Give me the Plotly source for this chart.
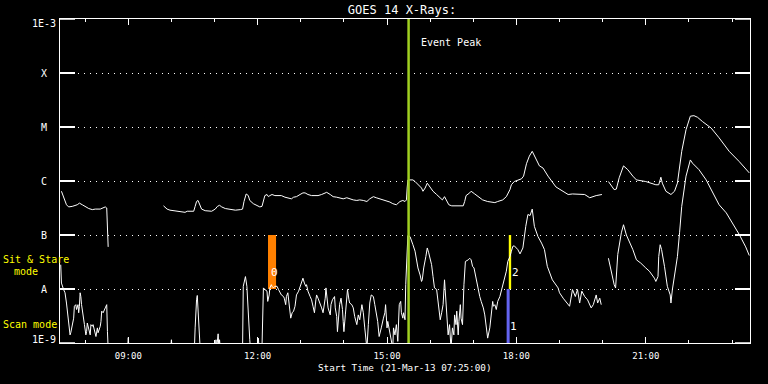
import math
import pandas as pd
import plotly.graph_objects as go

START = pd.Timestamp("2013-03-21 07:25:00")
END = START + pd.Timedelta(minutes=960)

# ---- GOES 14 long channel: minutes after start, log10 flux (W/m^2); None = data gap
long_minutes = (
    [2, 5, 9, 12, 17, 24, 27, 31, 35, 40, 45, 49, 56, 63, 65, 66, 67]
    + [100]
    + [144, 149, 153, 158, 165, 170, 174, 177, 181, 186,
       188, 190, 192, 194, 197, 202, 207, 211, 216, 219,
       222, 225, 230, 237, 244, 251, 254, 256, 259, 262,
       264, 269, 274, 278, 281, 284, 285, 288, 290, 292,
       295, 299, 304, 308, 313, 318, 322, 325, 329, 334,
       338, 341, 345, 350, 355, 359, 364, 369, 371, 376,
       380, 385, 389, 394, 399, 403, 408, 413, 417, 422,
       427, 431, 436, 440, 445, 450, 454, 459, 463, 468,
       473, 477, 480, 482, 483, 484, 487, 491, 494, 498,
       503, 505, 508, 511, 514, 519, 524, 528, 532, 535,
       538, 541, 545, 552, 561, 563, 565, 570, 572, 577,
       582, 588, 595, 605, 609, 616, 621, 626, 628, 632,
       642, 645, 649, 653, 657, 660, 667, 672, 679, 690,
       700, 707, 713, 723, 730, 737, 746, 754]
    + [758]
    + [763, 771, 774, 778, 784, 790, 797, 802, 815, 829, 833, 836, 838, 843,
       850, 855, 859, 865, 871, 877, 882, 887, 894, 906, 917, 931, 945, 959]
)
long_log10 = (
    [-6.19, -6.31, -6.44, -6.48, -6.47, -6.44, -6.41, -6.44, -6.47, -6.51,
     -6.53, -6.52, -6.52, -6.48, -6.50, -6.87, -7.22]
    + [None]
    + [-6.46, -6.52, -6.54, -6.55, -6.56, -6.56, -6.58, -6.56, -6.56, -6.56,
       -6.47, -6.38, -6.36, -6.44, -6.52, -6.55, -6.56, -6.56, -6.52, -6.47,
       -6.45, -6.48, -6.51, -6.53, -6.54, -6.53, -6.52, -6.38, -6.24, -6.27,
       -6.36, -6.42, -6.46, -6.48, -6.47, -6.31, -6.27, -6.25, -6.29, -6.27,
       -6.25, -6.27, -6.27, -6.27, -6.30, -6.31, -6.33, -6.30, -6.29, -6.25,
       -6.22, -6.22, -6.25, -6.27, -6.27, -6.27, -6.25, -6.22, -6.21, -6.25,
       -6.29, -6.30, -6.31, -6.33, -6.31, -6.33, -6.35, -6.36, -6.35, -6.36,
       -6.38, -6.33, -6.29, -6.31, -6.33, -6.35, -6.36, -6.39, -6.42, -6.44,
       -6.38, -6.36, -6.38, -6.35, -6.13, -5.98, -5.98, -5.98, -6.01, -6.07,
       -6.13, -6.19, -6.13, -6.04, -6.10, -6.19, -6.25, -6.31, -6.35, -6.29,
       -6.38, -6.44, -6.46, -6.46, -6.46, -6.38, -6.27, -6.22, -6.19, -6.24,
       -6.29, -6.35, -6.38, -6.40, -6.38, -6.35, -6.29, -6.16, -6.07, -6.01,
       -5.96, -5.91, -5.68, -5.54, -5.45, -5.54, -5.72, -5.76, -5.91, -6.11,
       -6.19, -6.25, -6.24, -6.24, -6.25, -6.31, -6.27, -6.25]
    + [None]
    + [-6.01, -6.16, -6.15, -5.94, -5.72, -5.79, -5.91, -5.98, -6.01, -6.07,
       -6.07, -5.93, -6.04, -6.19, -6.25, -6.19, -6.04, -5.45, -5.05, -4.80,
       -4.79, -4.82, -4.90, -5.02, -5.20, -5.45, -5.64, -5.85]
)

# ---- GOES 14 short channel
short_minutes = (
    [1, 2, 5, 7, 9, 11, 13, 14, 15, 17,
     19, 20, 22, 23, 25, 26, 27, 28, 29, 30,
     31, 33, 34, 36, 37, 38, 40, 42, 43, 45,
     46, 49, 50, 52, 53, 56, 57, 58, 60, 63,
     65, 66, 67, 80, 94, 95, 96, 154, 155, 156,
     187, 188, 189, 190, 191, 192, 193, 195, 216, 217,
     218, 219, 220, 221, 222, 223, 254, 255, 257, 258,
     260, 261, 263, 264, 265, 275, 276, 277, 281]
    + [283, 285, 288, 289, 291, 292, 294, 295, 297, 299,
       302, 304, 306, 308, 311, 312, 314, 315, 317, 319,
       320, 321, 323, 325, 327, 329, 332, 334, 336, 338,
       340, 342, 343, 345, 348, 350, 352, 354, 356, 357,
       359, 362, 364, 366, 369, 370, 371, 373, 376, 377,
       379, 382, 383, 385, 386, 387, 389, 391, 393, 394,
       395, 397, 399, 400, 402, 403, 406, 408, 410, 413,
       415, 417, 420, 422, 424, 427, 429, 431, 433, 436,
       438, 440, 442, 444, 445, 447, 450, 452, 453, 454,
       455, 456, 459, 461, 463, 464, 466, 468, 470, 472,
       474, 475, 477, 478, 480, 481, 483, 484, 487, 489,
       491, 494, 496, 498, 501, 503, 504, 506, 509, 511,
       513, 515, 517, 519, 521, 524, 526, 527, 529, 531,
       533, 535, 537, 538, 540, 542, 544, 546, 548, 549,
       551, 552, 554, 555, 557, 558, 560, 562, 564, 568,
       570, 572, 574, 576, 578, 580, 582, 584, 586, 589,
       591, 592, 594, 595, 598, 600, 602, 603, 605, 607,
       609, 612, 614, 616, 619, 621, 623, 626, 628, 630,
       632, 637, 640, 644, 648, 651, 654, 657, 660, 665,
       670, 674, 678, 685, 693, 695, 700, 704, 709, 713,
       717, 720, 723, 726, 730, 734, 739, 742, 746, 748,
       751, 753]
    + [758]
    + [763, 768, 771, 773, 775, 776, 781, 784, 788, 792,
       797, 802, 808, 815, 820, 827, 829, 832, 833, 835,
       837, 841, 845, 849, 850, 852, 856, 859, 862, 865,
       871, 877, 880, 885, 889, 899, 908, 917, 927, 936,
       945, 954, 959]
)
short_log10 = (
    [-7.55, -7.89, -8.01, -8.07, -8.26, -8.48, -8.66, -8.85, -8.81, -8.66,
     -8.54, -8.32, -8.29, -8.38, -8.29, -8.44, -8.32, -8.07, -8.14, -8.29,
     -8.41, -8.54, -8.66, -8.85, -8.79, -8.63, -8.72, -8.85, -8.66, -8.69,
     -8.66, -8.79, -8.88, -8.72, -8.81, -8.69, -8.60, -8.41, -8.44, -8.35,
     -8.29, -8.79, -9.10, -9.10, -9.10, -8.90, -9.10, -9.10, -8.94, -9.10,
     -9.10, -8.72, -8.32, -8.20, -8.12, -8.35, -8.72, -9.10, -9.10, -8.94,
     -9.10, -8.90, -8.83, -9.10, -8.94, -9.10, -9.10, -7.95, -7.80, -7.77,
     -7.95, -8.26, -8.88, -8.94, -9.10, -9.10, -8.91, -9.10, -9.10]
    + [-7.98, -8.01, -8.04, -8.23, -8.11, -7.98, -7.92, -7.95, -7.98, -7.95,
       -7.95, -8.01, -8.07, -8.11, -8.14, -8.17, -8.29, -8.14, -8.07, -8.35,
       -8.41, -8.54, -8.44, -8.41, -8.32, -8.11, -8.04, -7.95, -7.86, -7.80,
       -7.89, -7.95, -7.92, -8.04, -8.14, -8.20, -8.32, -8.44, -8.20, -8.11,
       -8.17, -8.26, -8.35, -8.44, -8.17, -7.98, -8.11, -8.35, -8.48, -8.29,
       -8.20, -8.14, -8.35, -8.51, -8.79, -8.60, -8.29, -8.17, -8.38, -8.60,
       -8.79, -8.48, -8.14, -8.01, -8.20, -8.26, -8.29, -8.35, -8.51, -8.66,
       -8.48, -8.57, -8.29, -8.44, -8.72, -9.10, -8.66, -8.26, -8.11, -8.14,
       -8.29, -8.44, -8.60, -8.88, -8.80, -8.72, -8.54, -8.44, -8.29, -8.54,
       -8.72, -8.60, -8.79, -8.91, -9.10, -8.72, -8.85, -8.66, -8.97, -8.29,
       -8.23, -8.44, -8.54, -8.44, -8.57, -7.92, -7.40, -7.01, -7.03, -7.09,
       -7.18, -7.30, -7.46, -7.61, -7.74, -7.86, -7.83, -7.61, -7.40, -7.24,
       -7.33, -7.43, -7.55, -7.77, -7.98, -8.01, -8.23, -8.41, -8.57, -8.44,
       -8.29, -7.83, -8.23, -8.54, -8.85, -8.66, -9.10, -8.72, -8.85, -8.48,
       -8.66, -8.41, -8.85, -8.60, -8.29, -8.54, -8.66, -7.92, -7.49, -7.46,
       -7.43, -7.46, -7.58, -7.61, -7.74, -7.89, -8.04, -8.14, -8.23, -8.35,
       -8.48, -8.60, -8.79, -8.91, -8.72, -8.41, -8.23, -8.32, -8.29, -8.38,
       -8.23, -8.14, -8.04, -7.92, -7.80, -7.67, -7.49, -7.40, -7.30, -7.21,
       -7.20, -7.27, -7.35, -7.24, -6.84, -6.62, -6.64, -6.52, -6.84, -7.03,
       -7.15, -7.27, -7.58, -7.83, -7.98, -8.07, -8.17, -8.23, -8.32, -8.01,
       -8.14, -8.01, -8.26, -8.04, -8.14, -8.20, -8.35, -8.29, -8.11, -8.26,
       -8.17, -8.29]
    + [None]
    + [-7.43, -7.74, -7.92, -7.98, -7.64, -7.36, -6.96, -6.81, -7.00, -7.12,
       -7.27, -7.46, -7.52, -7.61, -7.67, -7.80, -7.86, -7.77, -7.40, -7.18,
       -7.27, -7.58, -7.95, -8.11, -8.26, -8.01, -7.70, -7.40, -6.96, -6.47,
       -5.91, -5.61, -5.67, -5.73, -5.79, -5.98, -6.22, -6.44, -6.59, -6.78,
       -6.99, -7.22, -7.38]
)

# ---- axis classes
class_ticks = [1e-9, 1e-8, 1e-7, 1e-6, 1e-5, 1e-4, 1e-3]
class_labels = ["1E-9", "A", "B", "C", "M", "X", "1E-3"]
class_exponents = [-9, -8, -7, -6, -5, -4, -3]

# ---- event / observation windows
event_peak = "2013-03-21 15:30:00"
obs_labels = ["0", "1", "2"]
obs_start = ["2013-03-21 12:14:24", "2013-03-21 17:46:24", "2013-03-21 17:49:24"]
obs_end = ["2013-03-21 12:25:36", "2013-03-21 17:50:36", "2013-03-21 17:52:42"]
obs_low = [1e-8, 1e-9, 1e-8]
obs_high = [1e-7, 1e-8, 1e-7]
obs_colors = ["#ff8000", "#6464f0", "#ffff00"]

assert len(long_minutes) == len(long_log10)
assert len(short_minutes) == len(short_log10)


def to_time(mins):
    return [START + pd.Timedelta(minutes=m) for m in mins]


def to_flux(logs):
    return [None if v is None else 10 ** v for v in logs]


FONT = "DejaVu Sans Mono"
fig = go.Figure()

for lab, s, e, lo, hi, col in zip(obs_labels, obs_start, obs_end, obs_low, obs_high, obs_colors):
    fig.add_trace(go.Scatter(
        x=[s, e, e, s, s], y=[lo, lo, hi, hi, lo], mode="lines",
        fill="toself", fillcolor=col, line=dict(width=0, color=col),
        hoverinfo="skip", showlegend=False))

fig.add_trace(go.Scatter(x=to_time(long_minutes), y=to_flux(long_log10), mode="lines",
                         line=dict(color="white", width=1), connectgaps=False, showlegend=False))
fig.add_trace(go.Scatter(x=to_time(short_minutes), y=to_flux(short_log10), mode="lines",
                         line=dict(color="white", width=1), connectgaps=False, showlegend=False))

fig.add_shape(type="line", xref="x", yref="paper", x0=event_peak, x1=event_peak, y0=0, y1=1,
              line=dict(color="#a0d020", width=2.5))

# solid class tick segments on both sides of the plot (paper fraction of each decade)
n_dec = len(class_exponents) - 1
for ex in class_exponents:
    frac = (ex - class_exponents[0]) / n_dec
    fig.add_shape(type="line", xref="paper", yref="paper", x0=0, x1=15 / 690, y0=frac, y1=frac,
                  line=dict(color="white", width=1.5))
    fig.add_shape(type="line", xref="paper", yref="paper", x0=1 - 15 / 690, x1=1, y0=frac, y1=frac,
                  line=dict(color="white", width=1.5))

annotations = []
# y class labels, centred left of axis
for lab, ex in zip(class_labels, class_exponents):
    shift = 0
    if ex == -9:
        shift = 4
    elif ex == -3:
        shift = -4
    annotations.append(dict(x=-0.0225, xref="paper", y=ex, yref="y", text=lab, showarrow=False,
                            xanchor="center", yanchor="middle", yshift=shift,
                            font=dict(family=FONT, size=10, color="white")))
# observation labels
for lab, s, lo in zip(obs_labels, obs_start, obs_low):
    annotations.append(dict(x=s, xref="x", y=math.log10(lo) + 0.3, yref="y", text=lab,
                            showarrow=False, xanchor="left", yanchor="middle", xshift=1,
                            font=dict(family=FONT, size=11, color="white")))
annotations += [
    dict(x=event_peak, xref="x", y=-3.44, yref="y", text="Event Peak", showarrow=False,
         xanchor="left", yanchor="middle", xshift=10, font=dict(family=FONT, size=10, color="white")),
    dict(x=-0.085, xref="paper", y=(343 - 259) / 324, yref="paper", text="Sit & Stare",
         showarrow=False, xanchor="left", yanchor="middle", font=dict(family=FONT, size=10, color="yellow")),
    dict(x=-0.069, xref="paper", y=(343 - 271) / 324, yref="paper", text="mode",
         showarrow=False, xanchor="left", yanchor="middle", font=dict(family=FONT, size=10, color="yellow")),
    dict(x=-0.085, xref="paper", y=(343 - 324) / 324, yref="paper", text="Scan mode",
         showarrow=False, xanchor="left", yanchor="middle", font=dict(family=FONT, size=10, color="yellow")),
    dict(x=0.5, xref="paper", y=(343 - 368) / 324, yref="paper", text="Start Time (21-Mar-13 07:25:00)",
         showarrow=False, xanchor="center", yanchor="middle", font=dict(family=FONT, size=9.3, color="white")),
]

fig.update_layout(
    width=768, height=384,
    margin=dict(l=60, r=18, t=19, b=41),
    paper_bgcolor="black", plot_bgcolor="black",
    showlegend=False,
    title=dict(text="GOES 14 X-Rays:", xref="paper", x=0.4957, xanchor="center",
               yref="container", y=1 - 10 / 384, yanchor="middle",
               font=dict(family=FONT, size=12, color="white")),
    annotations=annotations,
    xaxis=dict(
        type="date", range=[START, END], showgrid=False, zeroline=False,
        showline=True, linecolor="white", linewidth=1, mirror="ticks",
        ticks="inside", ticklen=6, tickwidth=1, tickcolor="white",
        tick0="2013-03-21 09:00:00", dtick=3 * 3600000, tickformat="%H:%M",
        tickfont=dict(family=FONT, size=9, color="white"), ticklabelstandoff=4,
        minor=dict(ticks="inside", ticklen=3, tickcolor="white", tickwidth=1,
                   tick0="2013-03-21 08:00:00", dtick=3600000, showgrid=False),
    ),
    yaxis=dict(
        type="log", range=[-9, -3], tickvals=class_ticks, showticklabels=False,
        showgrid=True, gridcolor="white", gridwidth=1, griddash="1px,5px",
        showline=True, linecolor="white", linewidth=1, mirror="ticks",
        ticks="inside", ticklen=15, tickwidth=1.5, tickcolor="white", zeroline=False,
    ),
)

fig.write_html("out.html", config={"displayModeBar": False},
               post_script="document.body.style.margin='0';document.body.style.background='black';")
